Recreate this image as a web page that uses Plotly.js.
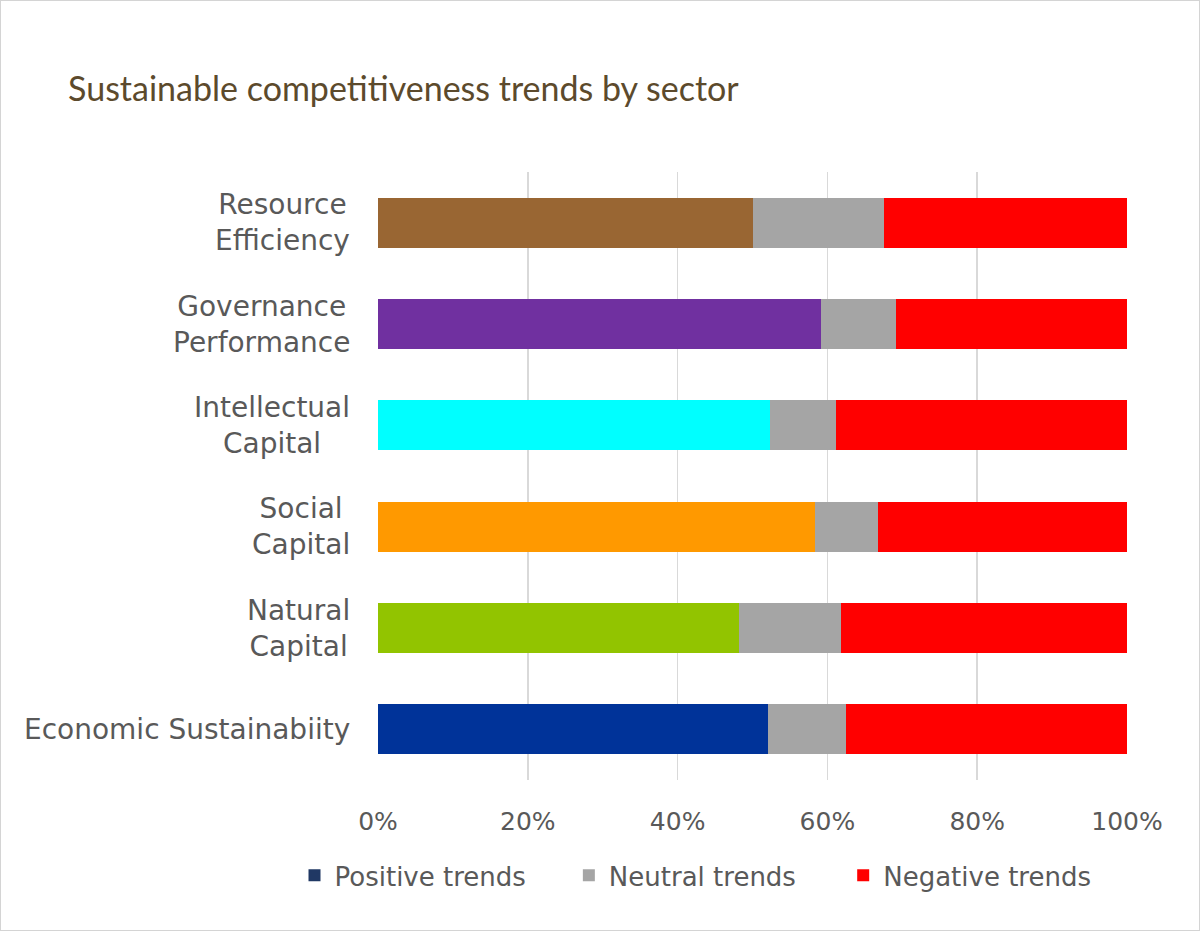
<!DOCTYPE html>
<html>
<head>
<meta charset="utf-8">
<script src="https://cdn.plot.ly/plotly-3.0.1.min.js"></script>
<style>
  body { margin: 0; background: #fff; }
  #chart { width: 1198px; height: 929px; border: 1px solid #d4d4d4; }
</style>
</head>
<body>
<div id="chart"></div>
<script>
// sectors, top to bottom as in the picture
const sectors = ['Resource<br>Efficiency', 'Governance<br>Performance', 'Intellectual<br>Capital',
                 'Social<br>Capital', 'Natural<br>Capital', 'Economic Sustainabiity'];
const positive = [50.0, 59.2, 52.3, 58.3, 48.2, 52.1];
const neutral  = [17.6,  9.9,  8.9,  8.4, 13.6, 10.4];
const negative = [32.4, 30.9, 38.8, 33.3, 38.2, 37.5];
const sectorColors = ['#996633', '#7030a0', '#00ffff', '#ff9900', '#92c400', '#003399'];
const xTicks = [0, 20, 40, 60, 80, 100];
const xTickLabels = ['0%', '20%', '40%', '60%', '80%', '100%'];

const labelFont = { family: 'DejaVu Sans', size: 28, color: '#595959' };
const legendFont = { family: 'DejaVu Sans', size: 26, color: '#595959' };

let traces = [
    {
        type: 'bar', orientation: 'h', name: 'Positive trends',
        y: sectors, x: positive,
        marker: { color: sectorColors },
        showlegend: false
    },
    // legend swatch only (the real bars are coloured per sector)
    {
        type: 'bar', orientation: 'h', name: 'Positive trends',
        y: [null], x: [null],
        marker: { color: '#203864' },
        legend: 'legend'
    },
    {
        type: 'bar', orientation: 'h', name: 'Neutral trends',
        y: sectors, x: neutral,
        marker: { color: '#a5a5a5' },
        legend: 'legend2'
    },
    {
        type: 'bar', orientation: 'h', name: 'Negative trends',
        y: sectors, x: negative,
        marker: { color: '#ff0000' },
        legend: 'legend3'
    }
];

// category labels as annotations so that two-line labels are centred like the original
let annotations = sectors.map(s => ({
    x: 0, xref: 'paper', y: s, yref: 'y',
    text: s, showarrow: false,
    xanchor: 'right', xshift: -26, align: 'center',
    font: labelFont
}));

function legendAt(x) {
    return {
        orientation: 'h', xref: 'container', yref: 'container',
        x: x, xanchor: 'left', y: 0.084, yanchor: 'top',
        font: legendFont
    };
}

let layout = {
    width: 1198, height: 929,
    margin: { l: 377, r: 72, t: 171, b: 150 },
    paper_bgcolor: '#ffffff', plot_bgcolor: '#ffffff',
    barmode: 'stack', barnorm: 'percent', bargap: 0.505,
    title: {
        text: 'Sustainable competitiveness trends by sector',
        font: { family: 'Lato', size: 34, color: '#5c4a2c' },
        x: 0.056, xanchor: 'left', xref: 'container',
        y: 0.905, yanchor: 'middle', yref: 'container'
    },
    xaxis: {
        range: [0, 100], tickmode: 'array', tickvals: xTicks, ticktext: xTickLabels,
        showgrid: true, gridcolor: '#d9d9d9', gridwidth: 1.5,
        zeroline: false, showline: false, ticks: '',
        tickfont: { family: 'DejaVu Sans', size: 25, color: '#595959' },
        ticklabelstandoff: 24, fixedrange: true
    },
    yaxis: {
        autorange: 'reversed', showticklabels: false,
        showgrid: false, zeroline: false, showline: false, ticks: ''
    },
    legend: legendAt(0.245),
    legend2: legendAt(0.474),
    legend3: legendAt(0.703),
    annotations: annotations,
    showlegend: true
};

Plotly.newPlot('chart', traces, layout, { displayModeBar: false, staticPlot: true });
</script>
</body>
</html>
